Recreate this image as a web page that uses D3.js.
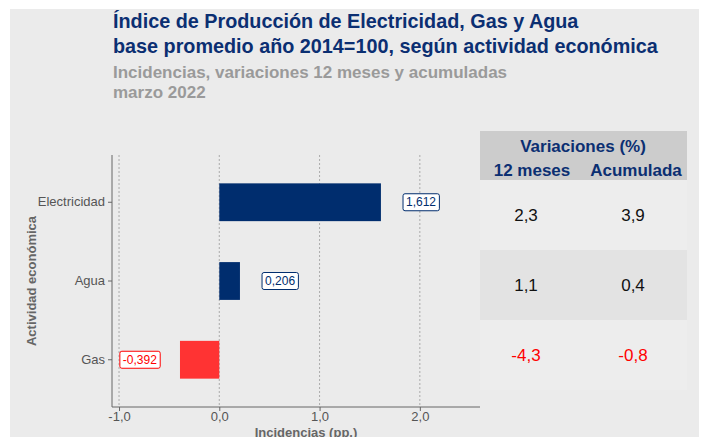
<!DOCTYPE html>
<html>
<head>
<meta charset="utf-8">
<script src="https://cdn.jsdelivr.net/npm/d3@7"></script>
<style>
  body { margin: 0; background: #fff; }
  svg { display: block; font-family: "Liberation Sans", Arial, sans-serif; }
</style>
</head>
<body>
<svg id="chart" width="702" height="437"></svg>
<script>
const categories = ['Electricidad', 'Agua', 'Gas']
const incidencias = [1.612, 0.206, -0.392]
const var12 = [2.3, 1.1, -4.3]
const varAcum = [3.9, 0.4, -0.8]
const xTicks = [-1, 0, 1, 2]

const navy = '#002D6E'
const red = '#FF3333'
const fmt = (v, d) => d3.format(`.${d}f`)(v).replace('.', ',').replace('−', '-')

const svg = d3.select('#chart')

svg.append('rect').attr('x', 10).attr('y', 9).attr('width', 689).attr('height', 428).attr('fill', '#EBEBEB')

// titles
const title = svg.append('text').attr('x', 113).attr('fill', '#0B2F72').attr('font-weight', 'bold').attr('font-size', 19.8)
title.append('tspan').attr('x', 113).attr('y', 28).text('Índice de Producción de Electricidad, Gas y Agua')
title.append('tspan').attr('x', 113).attr('y', 53).text('base promedio año 2014=100, según actividad económica')
const sub = svg.append('text').attr('fill', '#9A9A9A').attr('font-weight', 'bold').attr('font-size', 17)
sub.append('tspan').attr('x', 113).attr('y', 78).text('Incidencias, variaciones 12 meses y acumuladas')
sub.append('tspan').attr('x', 113).attr('y', 98).text('marzo 2022')

// plot
const pLeft = 112, pRight = 480, pTop = 155, pBottom = 407
const x = d3.scaleLinear().domain([-1.07, 2.6]).range([pLeft, pRight])
const y = d3.scaleBand().domain(categories).range([pTop, pBottom]).paddingInner(0.52).paddingOuter(0.36)

const g = svg.append('g')
g.selectAll('line.grid').data(xTicks).enter().append('line')
  .attr('x1', d => x(d)).attr('x2', d => x(d)).attr('y1', pTop).attr('y2', pBottom)
  .attr('stroke', '#9A9A9A').attr('stroke-width', 0.8).attr('stroke-dasharray', '2,2')

g.selectAll('rect.bar').data(categories).enter().append('rect')
  .attr('x', (d, i) => x(Math.min(0, incidencias[i])))
  .attr('width', (d, i) => Math.abs(x(incidencias[i]) - x(0)))
  .attr('y', d => y(d)).attr('height', y.bandwidth())
  .attr('fill', (d, i) => incidencias[i] < 0 ? red : navy)

// value labels
categories.forEach((c, i) => {
  const v = incidencias[i]
  const cx = x(v + (v < 0 ? -0.4 : 0.4))
  const cy = y(c) + y.bandwidth() / 2
  const col = v < 0 ? '#FF0000' : navy
  const lbl = g.append('g')
  const t = lbl.append('text').attr('x', cx).attr('y', cy + 4).attr('text-anchor', 'middle')
    .attr('font-size', 12).attr('fill', col).text(fmt(v, 3))
  const bb = t.node().getBBox()
  lbl.insert('rect', 'text').attr('x', bb.x - 3).attr('y', cy - 8.5).attr('width', bb.width + 6).attr('height', 17)
    .attr('rx', 2).attr('fill', '#fff').attr('stroke', col).attr('stroke-width', 1)
})

const xAxis = g.append('g').attr('transform', `translate(0,${pBottom})`)
  .call(d3.axisBottom(x).tickValues(xTicks).tickSize(4).tickSizeOuter(0).tickFormat(d => fmt(d, 1)))
const yAxis = g.append('g').attr('transform', `translate(${pLeft},0)`)
  .call(d3.axisLeft(y).tickSize(4).tickSizeOuter(0))
xAxis.select('.domain').attr('d', `M${pLeft},0H${pRight}`)
yAxis.select('.domain').attr('d', `M0,${pTop}V${pBottom}`)
;[xAxis, yAxis].forEach(a => {
  a.select('.domain').attr('stroke', '#666')
  a.selectAll('.tick line').attr('stroke', '#666')
  a.selectAll('.tick text').attr('fill', '#555').attr('font-size', 13).attr('font-family', '"Liberation Sans", Arial, sans-serif')
})
xAxis.selectAll('.tick text').attr('y', 5).attr('dy', '0.7em')

svg.append('text').attr('x', (pLeft + pRight) / 2 + 10).attr('y', 437).attr('text-anchor', 'middle')
  .attr('font-size', 13).attr('font-weight', 'bold').attr('fill', '#666').text('Incidencias (pp.)')
svg.append('text').attr('transform', `translate(36,${(pTop + pBottom) / 2}) rotate(-90)`).attr('text-anchor', 'middle')
  .attr('font-size', 13).attr('font-weight', 'bold').attr('fill', '#666').text('Actividad económica')

// table
const tx = 480, tw = 207
const col12 = 532, colAc = 636
svg.append('rect').attr('x', tx).attr('y', 131).attr('width', tw).attr('height', 49).attr('fill', '#CCCCCC')
svg.append('text').attr('x', (col12 + colAc) / 2 - 1).attr('y', 152).attr('text-anchor', 'middle')
  .attr('font-size', 17).attr('font-weight', 'bold').attr('fill', '#0B2F72').text('Variaciones (%)')
svg.append('text').attr('x', col12).attr('y', 176).attr('text-anchor', 'middle')
  .attr('font-size', 17).attr('font-weight', 'bold').attr('fill', '#0B2F72').text('12 meses')
svg.append('text').attr('x', colAc).attr('y', 176).attr('text-anchor', 'middle')
  .attr('font-size', 17).attr('font-weight', 'bold').attr('fill', '#0B2F72').text('Acumulada')

const rowFills = ['#EDEDED', '#E3E3E3', '#EDEDED']
categories.forEach((c, i) => {
  const ry = 180 + i * 70
  svg.append('rect').attr('x', tx).attr('y', ry).attr('width', tw).attr('height', 70).attr('fill', rowFills[i])
  ;[[col12 - 6, var12[i]], [colAc - 3, varAcum[i]]].forEach(([cx, v]) => {
    svg.append('text').attr('x', cx).attr('y', ry + 41).attr('text-anchor', 'middle')
      .attr('font-size', 17).attr('fill', v < 0 ? '#FF0000' : '#111').text(fmt(v, 1))
  })
})
</script>
</body>
</html>
